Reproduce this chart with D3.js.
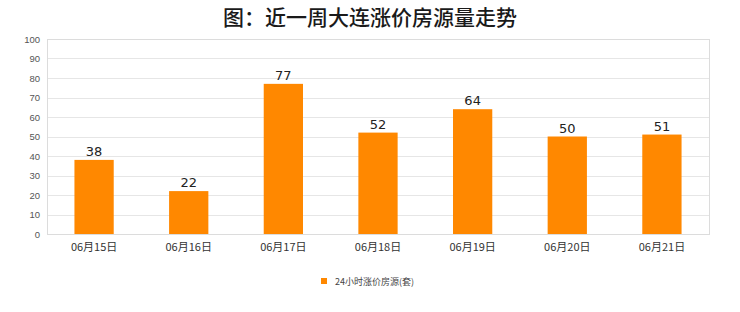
<!DOCTYPE html>
<html>
<head>
<meta charset="utf-8">
<script src="https://cdn.jsdelivr.net/npm/d3@7"></script>
<style>
  body { margin: 0; background: #fff; }
  svg { display: block; font-family: "DejaVu Sans", "Noto Sans CJK SC", sans-serif; }
</style>
</head>
<body>
<svg id="chart"></svg>
<script>
// Data
const categories = ["06月15日", "06月16日", "06月17日", "06月18日", "06月19日", "06月20日", "06月21日"];
const values = [38, 22, 77, 52, 64, 50, 51];
const yTicks = [0, 10, 20, 30, 40, 50, 60, 70, 80, 90, 100];
const seriesName = "24小时涨价房源(套)";
const title = "图：近一周大连涨价房源量走势";

const W = 740, H = 312;
const margin = { top: 39, right: 31, bottom: 78, left: 47 };
const width = W - margin.left - margin.right;
const height = H - margin.top - margin.bottom;

const svg = d3.select("#chart").attr("width", W).attr("height", H);

// Title
svg.append("text")
    .attr("x", W / 2)
    .attr("y", 25)
    .attr("text-anchor", "middle")
    .attr("font-family", "Noto Sans CJK SC")
    .attr("font-size", 21)
    .attr("font-weight", 500)
    .attr("fill", "#1a1a1a")
    .text(title);

const g = svg.append("g").attr("transform", `translate(${margin.left},${margin.top})`);

// Scales
const x = d3.scaleBand().domain(categories).range([0, width]).paddingInner(0.585).paddingOuter(0.29);
const y = d3.scaleLinear().domain([0, 100]).range([height, 0]);

// Grid
g.selectAll("line.grid")
    .data(yTicks)
    .enter()
    .append("line")
    .attr("class", "grid")
    .attr("x1", 0).attr("x2", width)
    .attr("y1", d => Math.round(y(d)) + 0.5).attr("y2", d => Math.round(y(d)) + 0.5)
    .attr("stroke", "#e6e6e6");

// Frame
g.append("rect")
    .attr("x", 0.5).attr("y", 0.5)
    .attr("width", width).attr("height", height)
    .attr("fill", "none")
    .attr("stroke", "#dcdcdc");

// Y axis labels
const yAxis = d3.axisLeft(y).tickValues(yTicks).tickSize(0).tickPadding(7);
g.append("g").call(yAxis)
    .call(s => s.select(".domain").remove())
    .selectAll("text")
    .attr("font-family", "Liberation Sans, Arial, sans-serif")
    .attr("font-size", 9.5)
    .attr("fill", "#555");

// X axis labels
const xAxis = d3.axisBottom(x).tickSize(0).tickPadding(9);
g.append("g").attr("transform", `translate(0,${height})`).call(xAxis)
    .call(s => s.select(".domain").remove())
    .selectAll("text")
    .attr("font-family", "Noto Sans CJK SC")
    .attr("font-size", 11)
    .attr("fill", "#333");

// Bars
g.selectAll("rect.bar")
    .data(values)
    .enter()
    .append("rect")
    .attr("class", "bar")
    .attr("x", (d, i) => x(categories[i]))
    .attr("y", d => y(d))
    .attr("width", x.bandwidth())
    .attr("height", d => height - y(d))
    .attr("fill", "#ff8800");

// Value labels
g.selectAll("text.val")
    .data(values)
    .enter()
    .append("text")
    .attr("class", "val")
    .attr("x", (d, i) => x(categories[i]) + x.bandwidth() / 2)
    .attr("y", d => y(d) - 4)
    .attr("text-anchor", "middle")
    .attr("font-size", 13)
    .attr("fill", "#222")
    .text(d => d);

// Legend
const lg = svg.append("g").attr("transform", "translate(321,278)");
lg.append("rect").attr("x", 0).attr("y", 0).attr("width", 6).attr("height", 6).attr("fill", "#ff8800");
lg.append("text")
    .attr("x", 14).attr("y", 6.5)
    .attr("font-family", "Noto Sans CJK SC")
    .attr("font-size", 9)
    .attr("fill", "#444")
    .text(seriesName);
</script>
</body>
</html>
